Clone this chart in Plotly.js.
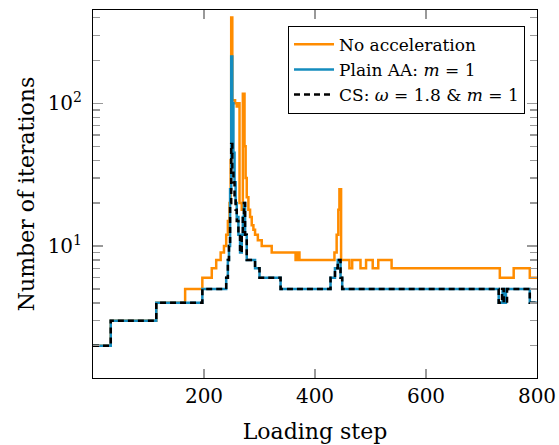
<!DOCTYPE html>
<html>
<head>
<meta charset="utf-8">
<script src="https://cdn.plot.ly/plotly-3.0.1.min.js"></script>
<style>html,body{margin:0;padding:0;background:#fff;}#chart{width:559px;height:445px;}</style>
</head>
<body>
<div id="chart"></div>
<script>
// Loading step breakpoints and iteration counts (step-wise, held until next breakpoint)
const noAccSteps = [0,32,114,166,197,214,222,230,236,240,243,246,248,249,251,256,259,262,264,268,270,272,273,275,277,280,283,286,289,292,297,304,322,365,369,372,435,439,442,444,447,462,467,482,492,504,514,538,733,758,787,800];
const noAccIters = [2,3,4,5,6,7,8,9,10,12,15,20,40,400,105,100,95,100,20,18,117,117,50,30,22,18,16,14,13,12,11,10,9,8,9,8,9,12,18,25,8,7,8,7,8,7,8,7,6,7,6,6];

const aaSteps = [0,32,114,197,240,243,245,247,249,251,253,255,257,259,262,265,268,270,272,274,277,292,300,338,428,436,441,446,449,731,738,741,744,787,800];
const aaIters = [2,3,4,5,6,8,10,25,213,100,45,28,20,16,12,9,12,16,20,12,8,7,6,5,6,7,8,6,5,4,5,4,5,4,4];

const csSteps = [0,32,114,197,240,243,245,247,249,251,253,255,257,259,262,265,268,270,272,274,277,292,300,338,428,436,441,446,449,731,737,740,746,787,800];
const csIters = [2,3,4,5,6,8,10,20,52,35,28,22,18,15,12,9,12,16,20,12,8,7,6,5,6,7,8,6,5,4,5,4,5,4,4];

const seriesNames = ['No acceleration', 'Plain AA: <i>m</i> = 1', 'CS: <i>ω</i> = 1.8 &amp; <i>m</i> = 1'];
const xTickVals = [200,400,600,800];
const yTickVals = [10,100];
const yTickText = ['10<sup>1</sup>','10<sup>2</sup>'];
const yMinorVals = [2,3,4,5,6,7,8,9,20,30,40,50,60,70,80,90,200,300,400];

const font = 'DejaVu Serif';
const traces = [
  {x: noAccSteps, y: noAccIters, name: seriesNames[0], mode: 'lines',
   line: {shape: 'hv', color: 'rgb(255,140,0)', width: 2.5}},
  {x: aaSteps, y: aaIters, name: seriesNames[1], mode: 'lines',
   line: {shape: 'hv', color: 'rgb(20,140,190)', width: 2.5}},
  {x: csSteps, y: csIters, name: seriesNames[2], mode: 'lines',
   line: {shape: 'hv', color: 'black', width: 2.5, dash: '6px,4px'}}
];

const layout = {
  width: 559, height: 445,
  margin: {l: 93, r: 22, t: 10, b: 67},
  paper_bgcolor: 'white', plot_bgcolor: 'white',
  font: {family: font, size: 20, color: 'black'},
  showlegend: true,
  legend: {x: 0.973, y: 0.957, xanchor: 'right', yanchor: 'top',
    bgcolor: 'white', bordercolor: 'black', borderwidth: 1, itemwidth: 40,
    font: {family: font, size: 17, color: 'black'}, tracegroupgap: 0},
  xaxis: {range: [0, 800], tickvals: xTickVals, ticks: 'inside', ticklen: 9,
    tickcolor: '#999', tickwidth: 1.3, showgrid: false, zeroline: false,
    showline: true, linecolor: 'black', linewidth: 1, mirror: 'ticks',
    tickfont: {family: font, size: 20},
    title: {text: 'Loading step', font: {family: font, size: 22}, standoff: 16}},
  yaxis: {type: 'log', range: [Math.log10(1.19), Math.log10(451)],
    tickvals: yTickVals, ticktext: yTickText, ticks: 'inside', ticklen: 10,
    tickcolor: '#999', tickwidth: 1.3, showgrid: false, zeroline: false,
    showline: true, linecolor: 'black', linewidth: 1, mirror: 'ticks',
    tickfont: {family: font, size: 20}, ticklabelstandoff: 6,
    minor: {tickmode: 'array', tickvals: yMinorVals, ticks: 'inside', ticklen: 7, tickcolor: '#999', tickwidth: 1.3, showgrid: false},
    title: {text: 'Number of iterations', font: {family: font, size: 22}, standoff: 6}}
};

Plotly.newPlot('chart', traces, layout, {displayModeBar: false, staticPlot: true});
</script>
</body>
</html>
